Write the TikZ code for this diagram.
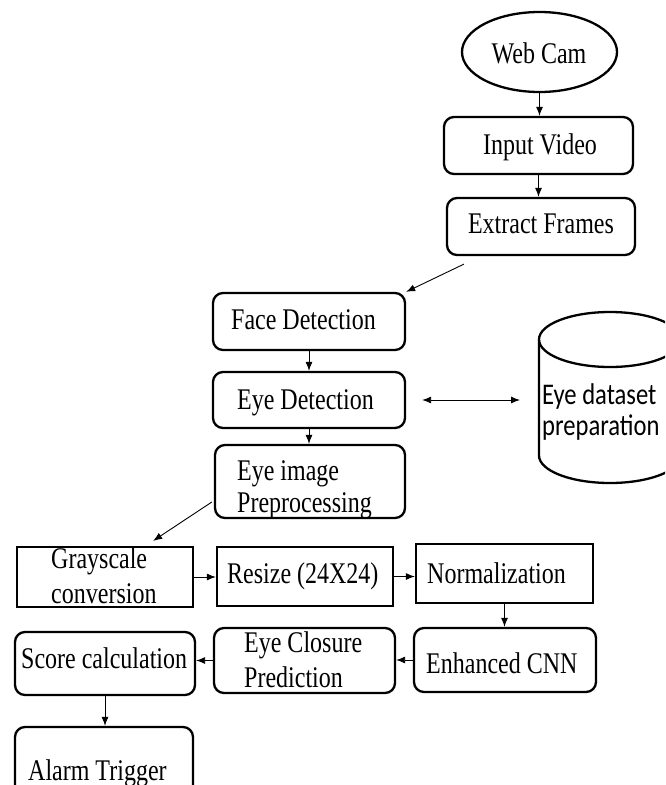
\documentclass[tikz,border=0pt]{standalone}
\usepackage{fontspec}
\newfontfamily\tnr{Liberation Serif}[FakeStretch=0.80]
\newfontfamily\carl{Carlito}[FakeStretch=0.82]
\usetikzlibrary{shapes.geometric,arrows.meta,calc}
\begin{document}
\begin{tikzpicture}[x=1pt,y=1pt,
  box/.style={draw, line width=2.3pt, rounded corners=10pt, inner sep=0pt},
  sbox/.style={draw, line width=2.3pt, inner sep=0pt},
  oval/.style={draw, ellipse, line width=2.3pt, inner sep=0pt},
  arr/.style={line width=0.9pt, -{Latex[length=9pt,width=7pt]}},
  darr/.style={line width=0.9pt, {Latex[length=9pt,width=7pt]}-{Latex[length=9pt,width=7pt]}},
  txt/.style={anchor=base west, inner sep=0pt, font=\tnr\fontsize{30}{34}\selectfont},
  ctxt/.style={anchor=base, inner sep=0pt, font=\tnr\fontsize{30}{34}\selectfont},
  stxt/.style={anchor=base west, inner sep=0pt, font=\carl\fontsize{30}{34}\selectfont}
]
\useasboundingbox (0,0) rectangle (665,-785);
\clip (0,0) rectangle (665,-785);
\fill[white] (0,0) rectangle (665,-785);

% boxes
\node[oval, minimum width=155pt, minimum height=80pt] (webcam) at (539.5,-52) {};
\node[box, minimum width=189pt, minimum height=57pt] (input) at (538.5,-145.5) {};
\node[box, minimum width=188pt, minimum height=57pt] (extract) at (541,-226.5) {};
\node[box, minimum width=192pt, minimum height=57pt] (face) at (309,-321.5) {};
\node[box, minimum width=192pt, minimum height=56pt] (eyedet) at (309,-400) {};
\node[box, minimum width=190pt, minimum height=73pt] (eyeimg) at (310,-481.5) {};
\node[sbox, minimum width=176pt, minimum height=60pt] (gray) at (105,-577) {};
\node[sbox, minimum width=176pt, minimum height=59pt] (resize) at (305,-576.5) {};
\node[sbox, minimum width=177pt, minimum height=59pt] (norm) at (504.5,-573.5) {};
\node[box, minimum width=182pt, minimum height=64pt] (cnn) at (505,-660) {};
\node[box, minimum width=181pt, minimum height=65pt] (closure) at (304.5,-660.5) {};
\node[box, minimum width=180pt, minimum height=63pt] (score) at (105,-663.5) {};
\node[box, minimum width=178pt, minimum height=83pt] (alarm) at (104,-768.5) {};

% cylinder (database)
\draw[line width=2.3pt] (539,-339.5) -- (539,-455.5)
  arc[start angle=180, end angle=360, x radius=71, y radius=27.5] -- (681,-339.5);
\draw[line width=2.3pt] (610,-339.5) ellipse [x radius=71, y radius=27.5];
\coordinate (db) at (539,-400);

% texts
\node[ctxt] (t1) at (539,-63) {Web Cam};
\node[ctxt] (t2) at (540,-154) {Input Video};
\node[ctxt] (t3) at (541,-233) {Extract Frames};
\node[txt] (t4) at (231,-329) {Face Detection};
\node[txt] (t5) at (237,-409) {Eye Detection};
\node[txt] (t6a) at (237,-480) {Eye image};
\node[txt] (t6b) at (237,-512) {Preprocessing};
\node[txt] (t7a) at (51,-568) {Grayscale};
\node[txt] (t7b) at (51,-603) {conversion};
\node[txt] (t8) at (227,-583) {Resize (24X24)};
\node[txt] (t9) at (427,-583) {Normalization};
\node[txt] (t10) at (426,-673) {Enhanced CNN};
\node[txt] (t11a) at (244,-652) {Eye Closure};
\node[txt] (t11b) at (244,-687) {Prediction};
\node[txt] (t12) at (21,-668) {Score calculation};
\node[txt] (t13) at (28,-780) {Alarm Trigger};
\node[stxt] (t14a) at (542,-404) {Eye dataset};
\node[stxt] (t14b) at (542,-435) {preparation};

% connectors
\draw[arr] (webcam.south) -- (webcam.south |- input.north);
\draw[arr] (input.south) -- (input.south |- extract.north);
\draw[arr] ($(extract.south west)+(18,-8)$) -- (face.north east);
\draw[arr] (face.south) -- (eyedet.north);
\draw[arr] (eyedet.south) -- (eyedet.south |- eyeimg.north);
\draw[darr] ($(eyedet.east)+(16,0)$) -- ($(db)+(-19,0)$);
\draw[arr] ($(eyeimg.west)+(-2,-20.5)$) -- ($(gray.north west)!0.77!(gray.north east)+(0,5)$);
\draw[arr] (gray.east) -- (gray.east -| resize.west);
\draw[arr] (resize.east) -- (resize.east -| norm.west);
\draw[arr] (norm.south) -- (norm.south |- cnn.north);
\draw[arr] (cnn.west) -- (cnn.west -| closure.east);
\draw[arr] (closure.west) -- (closure.west -| score.east);
\draw[arr] (score.south) -- (score.south |- alarm.north);
\end{tikzpicture}
\end{document}
